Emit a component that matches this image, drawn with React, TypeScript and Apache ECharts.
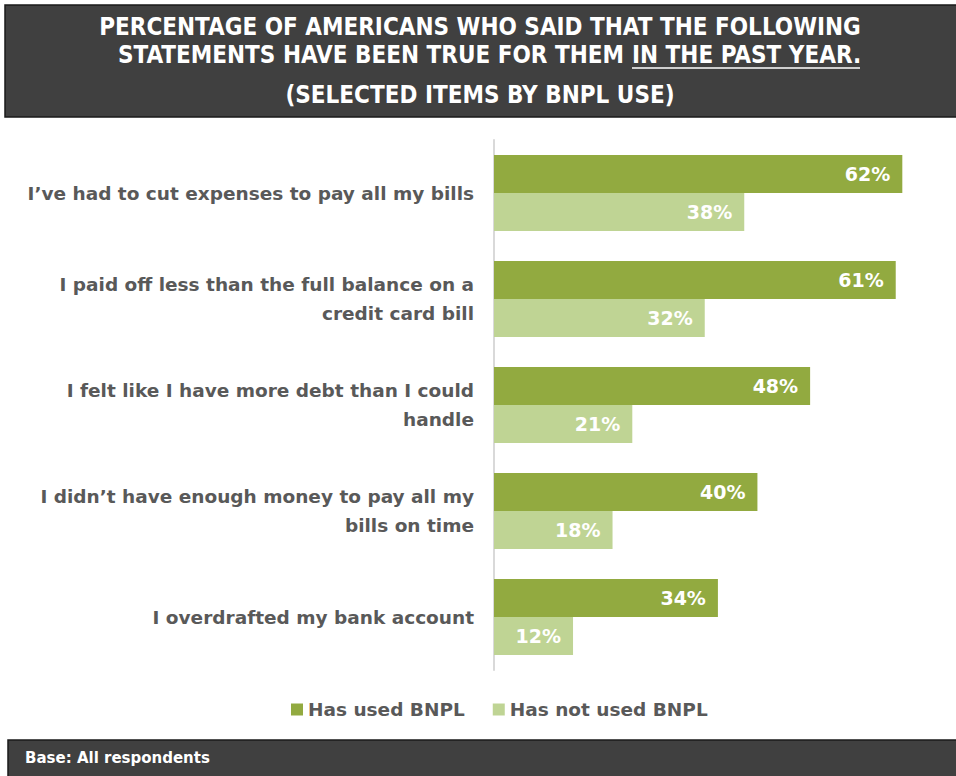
import React, { useEffect, useRef } from "react";
import * as echarts from "echarts";

const categories = [
  "I\u2019ve had to cut expenses to pay all my bills",
  "I paid off less than the full balance on a\ncredit card bill",
  "I felt like I have more debt than I could\nhandle",
  "I didn\u2019t have enough money to pay all my\nbills on time",
  "I overdrafted my bank account",
];
const seriesNames = ["Has used BNPL", "Has not used BNPL"];
const usedBNPL = [62, 61, 48, 40, 34];
const notUsedBNPL = [38, 32, 21, 18, 12];

const DARK = "#92AA40";
const LIGHT = "#BFD494";
const FONT = "'DejaVu Sans'";

export default function App() {
  const ref = useRef<HTMLDivElement>(null);
  useEffect(() => {
    if (!ref.current) return;
    const chart = echarts.init(ref.current, null, { renderer: "svg" });
    const titleFont = {
      fill: "#ffffff",
      fontFamily: "DejaVu Sans Condensed",
      fontWeight: "bold",
      fontSize: 24,
      verticalAlign: "middle",
    } as any;
    const valueLabel = {
      show: true,
      position: "insideRight",
      formatter: "{c}%",
      color: "#ffffff",
      fontFamily: FONT,
      fontWeight: "bold",
      fontSize: 19,
      distance: 12,
    };
    chart.setOption({
      animation: false,
      grid: { left: 494, top: 140, width: 461, height: 530, containLabel: false },
      xAxis: {
        type: "value",
        min: 0,
        max: 70,
        show: false,
      },
      yAxis: {
        type: "category",
        data: categories,
        inverse: true,
        axisLine: { show: true, lineStyle: { color: "#D9D9D9", width: 2 } },
        axisTick: { show: false },
        axisLabel: {
          color: "#595959",
          fontFamily: FONT,
          fontWeight: "bold",
          fontSize: 18.5,
          lineHeight: 29,
          align: "right",
          margin: 20,
        },
      },
      legend: {
        data: seriesNames,
        bottom: 52,
        left: 286,
        itemWidth: 12,
        itemHeight: 12,
        itemGap: 28,
        icon: "rect",
        textStyle: {
          color: "#595959",
          fontFamily: FONT,
          fontWeight: "bold",
          fontSize: 18.5,
        },
      },
      series: [
        {
          name: seriesNames[0],
          type: "bar",
          data: usedBNPL,
          barWidth: 38,
          barGap: "0%",
          itemStyle: { color: DARK },
          label: valueLabel,
        },
        {
          name: seriesNames[1],
          type: "bar",
          data: notUsedBNPL,
          barWidth: 38,
          barGap: "0%",
          itemStyle: { color: LIGHT },
          label: valueLabel,
        },
      ],
      graphic: [
        {
          type: "rect",
          shape: { x: 5, y: 5, width: 960, height: 112 },
          style: { fill: "#404040", stroke: "#1a1a1a", lineWidth: 1.5 },
          silent: true,
        },
        {
          type: "text",
          x: 480,
          y: 27,
          style: { ...titleFont, align: "center", text: "PERCENTAGE OF AMERICANS WHO SAID THAT THE FOLLOWING" },
        },
        {
          type: "text",
          x: 624,
          y: 55,
          style: { ...titleFont, align: "right", text: "STATEMENTS HAVE BEEN TRUE FOR THEM" },
        },
        {
          type: "text",
          x: 632,
          y: 55,
          style: { ...titleFont, align: "left", text: "IN THE PAST YEAR." },
        },
        {
          type: "line",
          shape: { x1: 632, y1: 68, x2: 860, y2: 68 },
          style: { stroke: "#ffffff", lineWidth: 1.5 },
        },
        {
          type: "text",
          x: 480,
          y: 95,
          style: { ...titleFont, align: "center", text: "(SELECTED ITEMS BY BNPL USE)" },
        },
        {
          type: "rect",
          shape: { x: 8, y: 740, width: 960, height: 40 },
          style: { fill: "#404040", stroke: "#1a1a1a", lineWidth: 1.5 },
          silent: true,
        },
        {
          type: "text",
          x: 25,
          y: 758,
          style: {
            text: "Base: All respondents",
            fill: "#ffffff",
            fontFamily: FONT,
            fontWeight: "bold",
            fontSize: 15,
            verticalAlign: "middle",
          },
        },
      ],
    });
    return () => chart.dispose();
  }, []);
  return (
    <div
      ref={ref}
      style={{ position: "fixed", left: 0, top: 0, width: 956, height: 776, background: "#ffffff" }}
    />
  );
}
